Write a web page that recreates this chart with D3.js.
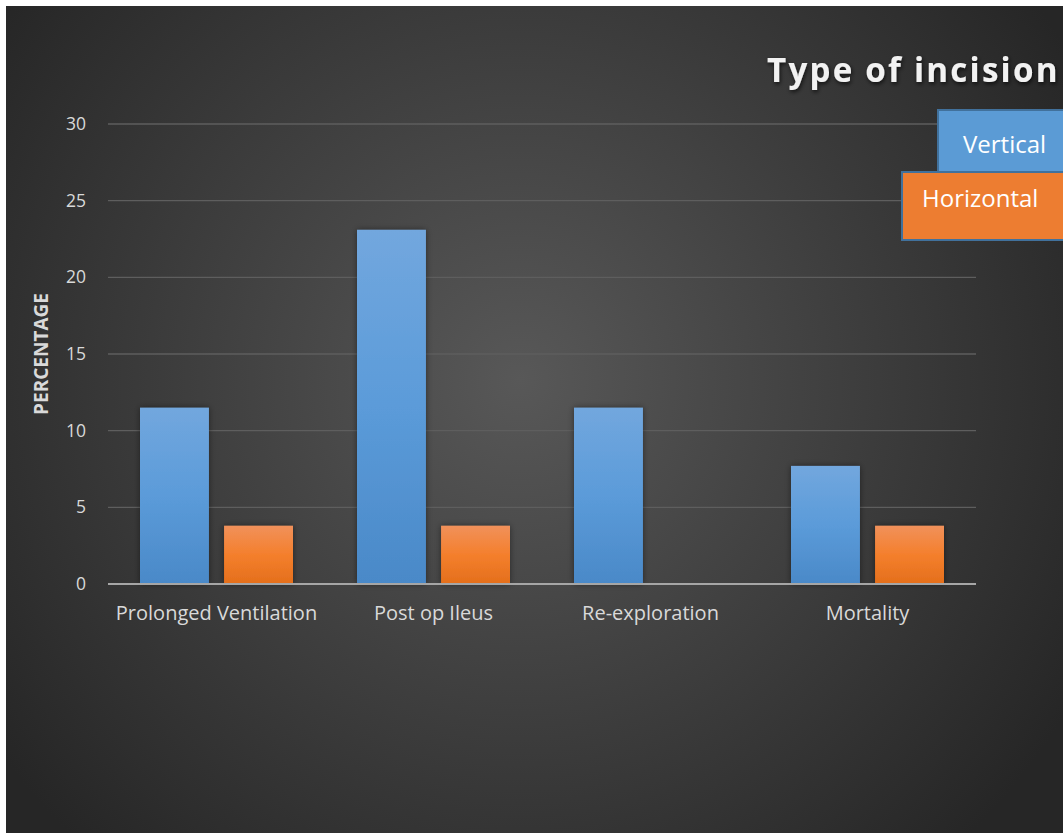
<!DOCTYPE html>
<html>
<head>
<meta charset="utf-8">
<script src="https://cdn.jsdelivr.net/npm/d3@7"></script>
<style>
  html, body { margin: 0; padding: 0; background: #ffffff; }
  svg { display: block; }
</style>
</head>
<body>
<div id="chart"></div>
<script>
// Complication rates (%) by type of abdominal incision
const categories = ["Prolonged Ventilation", "Post op Ileus", "Re-exploration", "Mortality"];
const seriesNames = ["Vertical", "Horizontal"];
const verticalValues = [11.5, 23.1, 11.5, 7.7];
const horizontalValues = [3.8, 3.8, 0, 3.8];
const yTicks = [0, 5, 10, 15, 20, 25, 30];

const W = 1063, H = 833;
const font = "'Open Sans', 'Noto Sans', 'DejaVu Sans', sans-serif";

const svg = d3.select("#chart").append("svg").attr("width", W).attr("height", H);
const defs = svg.append("defs");

// Dark radial background
const bg = defs.append("radialGradient").attr("id", "bg")
  .attr("gradientUnits", "userSpaceOnUse")
  .attr("cx", 520).attr("cy", 380).attr("r", 640);
bg.append("stop").attr("offset", "0%").attr("stop-color", "#585858");
bg.append("stop").attr("offset", "100%").attr("stop-color", "#262626");

const gBlue = defs.append("linearGradient").attr("id", "gBlue").attr("x1", 0).attr("y1", 0).attr("x2", 0).attr("y2", 1);
gBlue.append("stop").attr("offset", "0%").attr("stop-color", "#72a7de");
gBlue.append("stop").attr("offset", "50%").attr("stop-color", "#5b9bd9");
gBlue.append("stop").attr("offset", "100%").attr("stop-color", "#4a89c8");
const gOrange = defs.append("linearGradient").attr("id", "gOrange").attr("x1", 0).attr("y1", 0).attr("x2", 0).attr("y2", 1);
gOrange.append("stop").attr("offset", "0%").attr("stop-color", "#f1915b");
gOrange.append("stop").attr("offset", "50%").attr("stop-color", "#f47f2c");
gOrange.append("stop").attr("offset", "100%").attr("stop-color", "#e46f1c");

const shadow = defs.append("filter").attr("id", "shadow").attr("x", "-20%").attr("y", "-20%").attr("width", "140%").attr("height", "140%");
shadow.append("feDropShadow").attr("dx", 0).attr("dy", 0).attr("stdDeviation", 3)
  .attr("flood-color", "#000").attr("flood-opacity", 0.45);

const titleShadow = defs.append("filter").attr("id", "tshadow").attr("x", "-10%").attr("y", "-30%").attr("width", "120%").attr("height", "160%");
titleShadow.append("feDropShadow").attr("dx", 1).attr("dy", 2).attr("stdDeviation", 2)
  .attr("flood-color", "#000").attr("flood-opacity", 0.7);

svg.append("rect").attr("x", 6).attr("y", 6).attr("width", W - 6).attr("height", H - 6).attr("fill", "url(#bg)");

const plot = { left: 108, right: 976, top: 124, bottom: 584 };

const x0 = d3.scaleBand().domain(categories).range([plot.left, plot.right]).paddingInner(0).paddingOuter(0);
const x1 = d3.scaleBand().domain(seriesNames).range([32, x0.bandwidth() - 32]).paddingInner(0.18);
const y = d3.scaleLinear().domain([0, 30]).range([plot.bottom, plot.top]);

// Gridlines
svg.append("g").selectAll("line").data(yTicks.filter(t => t > 0)).join("line")
  .attr("x1", plot.left).attr("x2", plot.right)
  .attr("y1", d => y(d)).attr("y2", d => y(d))
  .attr("stroke", "#5e5e5e").attr("stroke-width", 1.3);

// Y axis tick labels
const yAxis = svg.append("g").attr("transform", `translate(${plot.left},0)`)
  .call(d3.axisLeft(y).tickValues(yTicks).tickSize(0).tickPadding(22));
yAxis.select(".domain").remove();
yAxis.selectAll("text").attr("fill", "#d9d9d9").attr("font-size", 17.5).attr("font-family", font);

// Bars
const rows = categories.map((c, i) => ({ cat: c, vals: [
  { key: "Vertical", v: verticalValues[i] }, { key: "Horizontal", v: horizontalValues[i] }] }));
const groups = svg.append("g").selectAll("g").data(rows).join("g")
  .attr("transform", d => `translate(${x0(d.cat)},0)`);
groups.selectAll("rect").data(d => d.vals.filter(o => o.v > 0)).join("rect")
  .attr("x", d => x1(d.key)).attr("width", x1.bandwidth())
  .attr("y", d => y(d.v)).attr("height", d => y(0) - y(d.v))
  .attr("fill", d => d.key === "Vertical" ? "url(#gBlue)" : "url(#gOrange)")
  .attr("filter", "url(#shadow)");

// X axis baseline and category labels
svg.append("line").attr("x1", plot.left).attr("x2", plot.right)
  .attr("y1", y(0)).attr("y2", y(0)).attr("stroke", "#a6a6a6").attr("stroke-width", 2);
const xAxis = svg.append("g").attr("transform", `translate(0,${plot.bottom})`)
  .call(d3.axisBottom(x0).tickSize(0).tickPadding(22));
xAxis.select(".domain").remove();
xAxis.selectAll("text").attr("fill", "#d9d9d9").attr("font-size", 20).attr("font-family", font);

// Y axis title
svg.append("text").attr("transform", "translate(48,354) rotate(-90)")
  .attr("text-anchor", "middle").attr("font-family", font).attr("font-weight", "bold")
  .attr("font-size", 19).attr("fill", "#d9d9d9").text("PERCENTAGE");

// Chart title
svg.append("text").attr("x", 767).attr("y", 82)
  .attr("font-family", font).attr("font-weight", "bold").attr("font-size", 33.2)
  .attr("letter-spacing", 2.2).attr("fill", "#f2f2f2").attr("filter", "url(#tshadow)")
  .text("Type of incision");

// Legend boxes
const legend = [
  { name: "Vertical", x: 938, y: 110, h: 62, fill: "#5b9bd5", tx: 963, ty: 153 },
  { name: "Horizontal", x: 902, y: 172, h: 68, fill: "#ed7d31", tx: 922, ty: 207 }
];
const lg = svg.append("g").selectAll("g").data(legend).join("g");
lg.append("rect").attr("x", d => d.x).attr("y", d => d.y).attr("width", d => W + 10 - d.x).attr("height", d => d.h)
  .attr("fill", d => d.fill).attr("stroke", "#41719c").attr("stroke-width", 2);
lg.append("text").attr("x", d => d.tx).attr("y", d => d.ty)
  .attr("font-family", font).attr("font-size", 24).attr("fill", "#ffffff").text(d => d.name);
</script>
</body>
</html>
